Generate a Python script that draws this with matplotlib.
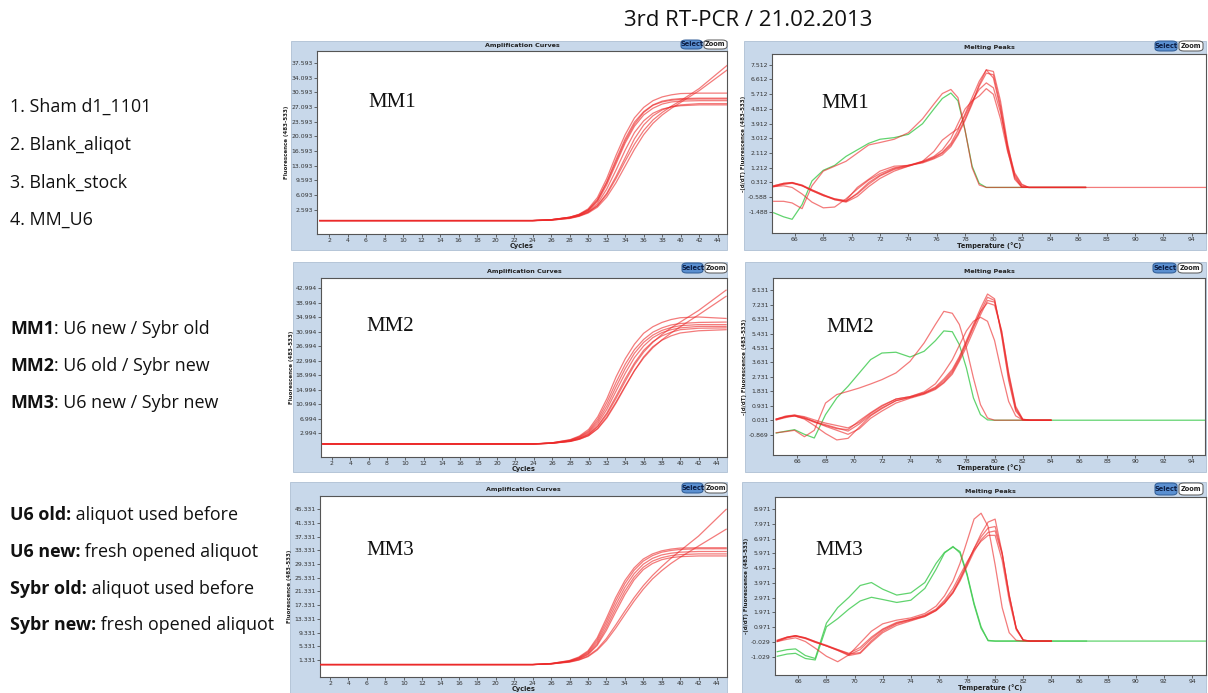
import numpy as np
import matplotlib
matplotlib.use("Agg")
import matplotlib.pyplot as plt
from matplotlib.patches import Rectangle, FancyBboxPatch

nan = float("nan")
W, H = 1208, 693

# ---------------- data ----------------
title = "3rd RT-PCR / 21.02.2013"
samples = ["1. Sham d1_1101", "2. Blank_aliqot", "3. Blank_stock", "4. MM_U6"]
mixes = [("MM1", ": U6 new / Sybr old"), ("MM2", ": U6 old / Sybr new"), ("MM3", ": U6 new / Sybr new")]
notes = [("U6 old:", " aliquot used before"), ("U6 new:", " fresh opened aliquot"),
         ("Sybr old:", " aliquot used before"), ("Sybr new:", " fresh opened aliquot")]

amp_cycles = [1, 24, 26, 28, 29, 30, 31, 32, 33, 34, 35, 36, 37, 38, 39, 40, 42, 45]
amp_xticks = [2, 4, 6, 8, 10, 12, 14, 16, 18, 20, 22, 24, 26, 28, 30, 32, 34, 36, 38, 40, 42, 44]

mm1_amp = [
    [0, 0, 0.2, 0.8, 1.5, 2.8, 5.5, 10, 15.5, 20.5, 24.5, 27, 28.6, 29.5, 30, 30.3, 30.4, 30.4],
    [0, 0, 0.2, 0.8, 1.4, 2.6, 5, 9.2, 14.5, 19.5, 23.5, 26, 27.6, 28.5, 28.9, 29.1, 29.2, 29.2],
    [0, 0, 0.2, 0.7, 1.3, 2.4, 4.5, 8.5, 13.5, 18.5, 22.5, 25.2, 26.8, 27.8, 28.3, 28.5, 28.6, 28.6],
    [0, 0, 0.2, 0.7, 1.2, 2.2, 4, 7.5, 12, 16.8, 21, 23.8, 25.6, 26.6, 27.1, 27.4, 27.6, 27.6],
    [0, 0, 0.1, 0.6, 1.1, 2, 3.6, 6.5, 10.5, 15, 19.5, 22.8, 25, 26.4, 27.2, 27.6, 27.9, 27.9],
    [0, 0, 0.1, 0.6, 1.1, 2, 3.5, 6.2, 10, 14.2, 18.2, 21.5, 24, 25.8, 27.3, 28.6, 31.5, 37],
    [0, 0, 0.1, 0.5, 1, 1.8, 3.2, 5.6, 9, 13, 17, 20.5, 23.2, 25.2, 26.8, 28.2, 31, 35.9],
    [0, 0, 0.2, 0.8, 1.4, 2.5, 4.8, 9, 14, 19, 23, 25.8, 27.5, 28.3, 28.7, 28.9, 29, 29],
]
mm2_amp = [
    [0, 0, 0.3, 1.2, 2.2, 4, 7.5, 12.5, 18.5, 23.5, 27.5, 30.5, 32.3, 33.5, 34.3, 34.8, 35, 34.6],
    [0, 0, 0.3, 1.1, 2, 3.6, 6.8, 11.5, 17, 22, 26, 28.8, 30.8, 32, 32.8, 33.2, 33.5, 33.6],
    [0, 0, 0.3, 1, 1.9, 3.3, 6.2, 10.5, 15.8, 20.8, 25, 28, 30, 31.3, 32.1, 32.6, 32.9, 32.9],
    [0, 0, 0.2, 0.9, 1.7, 3, 5.6, 9.6, 14.6, 19.5, 23.8, 27, 29.3, 30.7, 31.5, 32, 32.4, 32.4],
    [0, 0, 0.2, 0.8, 1.5, 2.7, 5, 8.6, 13.2, 18, 22.3, 25.8, 28.2, 29.8, 30.8, 31.5, 31.9, 32],
    [0, 0, 0.2, 0.7, 1.3, 2.3, 4.2, 7.2, 11.3, 15.8, 20.2, 24, 26.8, 28.6, 29.8, 30.6, 31.2, 31.5],
    [0, 0, 0.2, 0.8, 1.5, 2.6, 4.8, 8.2, 12.6, 17.3, 21.8, 25.3, 28, 30.2, 32, 33.6, 36.8, 42.4],
    [0, 0, 0.2, 0.7, 1.3, 2.3, 4.3, 7.5, 11.6, 16, 20.2, 23.7, 26.5, 28.7, 30.6, 32.3, 35.6, 40.7],
]
mm3_amp = [
    [0, 0, 0.3, 1.2, 2.2, 4, 7.8, 13.5, 19.5, 24.5, 28.2, 30.8, 32.3, 33.2, 33.7, 34, 34.1, 34.1],
    [0, 0, 0.3, 1.1, 2, 3.7, 7.2, 12.6, 18.5, 23.6, 27.5, 30.2, 31.8, 32.8, 33.3, 33.6, 33.8, 33.8],
    [0, 0, 0.3, 1, 1.9, 3.4, 6.6, 11.7, 17.4, 22.5, 26.5, 29.3, 31, 32, 32.5, 32.8, 33, 33],
    [0, 0, 0.2, 0.9, 1.7, 3.1, 6, 10.8, 16.3, 21.4, 25.5, 28.4, 30.2, 31.2, 31.8, 32.1, 32.3, 32.3],
    [0, 0, 0.2, 0.9, 1.6, 2.9, 5.6, 10, 15.3, 20.4, 24.7, 27.7, 29.5, 30.6, 31.2, 31.5, 31.7, 31.7],
    [0, 0, 0.2, 0.8, 1.4, 2.5, 4.5, 7.6, 11.5, 15.6, 19.5, 23, 26, 28.6, 31, 33.2, 37.5, 45.3],
    [0, 0, 0.2, 0.7, 1.3, 2.3, 4.2, 7, 10.6, 14.6, 18.5, 22, 25, 27.4, 29.5, 31.3, 34.6, 39.5],
]
mm1_amp_yticks = [2.593, 6.093, 9.593, 13.093, 16.593, 20.093, 23.593, 27.093, 30.593, 34.093, 37.593]
mm2_amp_yticks = [2.994, 6.994, 10.994, 14.994, 18.994, 22.994, 26.994, 30.994, 34.994, 38.994, 42.994]
mm3_amp_yticks = [1.331, 5.331, 9.331, 13.331, 17.331, 21.331, 25.331, 29.331, 33.331, 37.331, 41.331, 45.331]

melt_temps = [64.5, 65.2, 65.8, 66.5, 67.2, 68.0, 68.8, 69.6, 70.4, 71.2, 72.0, 73.0, 74.0, 75.0, 75.8,
              76.4, 77.0, 77.5, 78.0, 78.5, 79.0, 79.5, 80.0, 80.5, 81.0, 81.5, 82.0, 82.5, 84.0, 86.5, 95.0]
melt_xticks = [66, 68, 70, 72, 74, 76, 78, 80, 82, 84, 86, 88, 90, 92, 94]

mm1_melt_green = [
    [-1.55, -1.8, -1.95, -1.05, 0.4, 1.05, 1.35, 1.9, 2.3, 2.7, 2.95, 3.05, 3.25, 3.9, 4.8, 5.45, 5.78, 5.3, 3.5, 1.3, 0.25, 0.0, 0.0, 0.0, 0.0, 0.0, 0.0, 0.0, 0.0, 0.0, nan],
]
mm1_melt_red = [
    [-0.85, -0.85, -0.95, -1.3, 0.1, 1.0, 1.3, 1.6, 2.1, 2.6, 2.75, 2.95, 3.35, 4.2, 5.1, 5.75, 6.0, 5.5, 3.5, 1.2, 0.15, 0.0, 0.0, 0.0, 0.0, 0.0, 0.0, 0.0, 0.0, 0.0, nan],
    [0.1, 0.25, 0.3, 0.15, -0.15, -0.45, -0.7, -0.85, -0.35, 0.3, 0.75, 1.15, 1.35, 1.55, 1.85, 2.15, 2.7, 3.5, 4.5, 5.5, 6.5, 7.2, 6.7, 4.8, 2.3, 0.5, 0.02, 0.0, 0.0, 0.0, 0.0],
    [0.05, 0.2, 0.28, 0.12, -0.2, -0.5, -0.75, -0.9, -0.55, 0.05, 0.55, 1.0, 1.3, 1.55, 1.8, 2.1, 2.6, 3.3, 4.2, 5.2, 6.3, 7.2, 7.1, 5.3, 2.7, 0.7, 0.05, 0.0, 0.0, 0.0, nan],
    [0.05, 0.1, 0.0, -0.4, -0.9, -1.25, -1.2, -0.7, -0.1, 0.45, 0.85, 1.2, 1.35, 1.5, 1.75, 2.0, 2.5, 3.2, 4.1, 5.1, 6.2, 7.0, 6.9, 5.0, 2.5, 0.6, 0.03, 0.0, 0.0, 0.0, nan],
    [0.1, 0.25, 0.3, 0.1, -0.2, -0.5, -0.7, -0.8, 0.0, 0.5, 1.0, 1.3, 1.35, 1.6, 2.2, 2.9, 3.3, 3.6, 4.4, 5.3, 6.0, 6.4, 6.1, 4.6, 2.5, 0.9, 0.2, 0.0, 0.0, 0.0, nan],
    [0.05, 0.2, 0.25, 0.1, -0.15, -0.45, -0.75, -0.85, -0.4, 0.2, 0.7, 1.1, 1.3, 1.6, 1.9, 2.3, 3.0, 3.9, 4.8, 5.3, 5.6, 6.05, 5.7, 4.2, 2.2, 0.8, 0.15, 0.0, 0.0, 0.0, nan],
]
mm2_melt_green = [
    [-0.77, -0.65, -0.56, -0.85, -1.08, 0.38, 1.42, 2.15, 2.98, 3.81, 4.22, 4.27, 3.97, 4.33, 4.99, 5.6, 5.55, 4.74, 3.29, 1.42, 0.38, 0.05, 0.03, 0.03, 0.03, 0.03, 0.03, 0.03, 0.03, 0.03, 0.03],
]
mm2_melt_red = [
    [-0.75, -0.68, -0.6, -1.0, -0.6, 1.1, 1.63, 1.83, 2.04, 2.29, 2.56, 2.98, 3.7, 4.85, 6.0, 6.82, 6.7, 6.0, 4.54, 2.66, 1.0, 0.17, 0.03, 0.03, 0.03, 0.03, 0.03, 0.03, 0.03, nan, nan],
    [0.1, 0.25, 0.35, 0.25, 0.05, -0.15, -0.3, -0.45, -0.1, 0.45, 0.9, 1.35, 1.5, 1.75, 2.1, 2.6, 3.2, 4.0, 5.0, 6.0, 7.0, 7.9, 7.6, 5.3, 2.5, 0.6, 0.05, 0.03, 0.03, nan, nan],
    [0.05, 0.2, 0.3, 0.1, -0.3, -0.8, -1.2, -1.1, -0.4, 0.3, 0.75, 1.25, 1.45, 1.7, 2.0, 2.4, 3.0, 3.8, 4.8, 5.8, 6.8, 7.7, 7.5, 5.4, 2.7, 0.7, 0.06, 0.03, 0.03, nan, nan],
    [0.1, 0.3, 0.35, 0.2, -0.05, -0.35, -0.6, -0.85, -0.5, 0.15, 0.6, 1.1, 1.4, 1.65, 1.95, 2.35, 2.9, 3.7, 4.6, 5.6, 6.6, 7.5, 7.4, 5.6, 2.9, 0.8, 0.08, 0.03, 0.03, nan, nan],
    [0.05, 0.25, 0.3, 0.15, -0.05, -0.25, -0.45, -0.65, -0.2, 0.35, 0.8, 1.25, 1.45, 1.7, 2.05, 2.5, 3.1, 3.9, 4.9, 5.9, 6.8, 7.35, 7.2, 5.6, 3.0, 0.9, 0.1, 0.03, 0.03, nan, nan],
    [0.1, 0.25, 0.3, 0.15, -0.1, -0.3, -0.5, -0.55, 0.0, 0.5, 0.95, 1.35, 1.5, 1.8, 2.3, 3.0, 3.8, 4.7, 5.6, 6.2, 6.45, 6.2, 5.0, 3.0, 1.2, 0.3, 0.05, 0.03, 0.03, nan, nan],
]
mm3_melt_green = [
    [-0.69, -0.55, -0.5, -0.95, -1.15, 1.25, 2.3, 3.0, 3.8, 4.0, 3.55, 3.15, 3.3, 4.0, 5.3, 6.05, 6.4, 6.1, 4.6, 2.6, 1.0, 0.05, 0.03, 0.03, 0.03, 0.03, 0.03, 0.03, 0.03, 0.03, 0.03],
    [-1.0, -0.85, -0.8, -1.15, -1.25, 1.0, 1.55, 2.2, 2.75, 3.0, 2.85, 2.65, 2.8, 3.6, 4.9, 6.0, 6.45, 6.0, 4.5, 2.5, 0.9, 0.08, 0.03, 0.03, 0.03, 0.03, 0.03, 0.03, 0.03, 0.03, nan],
]
mm3_melt_red = [
    [0.0, 0.15, 0.25, 0.0, -0.45, -1.0, -1.37, -0.9, -0.1, 0.7, 1.2, 1.45, 1.6, 1.9, 2.4, 3.1, 4.1, 5.3, 6.8, 8.3, 8.7, 7.8, 5.2, 2.3, 0.6, 0.08, 0.03, 0.03, 0.03, nan, nan],
    [0.05, 0.3, 0.4, 0.25, 0.0, -0.25, -0.55, -0.85, -0.75, 0.05, 0.7, 1.2, 1.45, 1.7, 2.1, 2.6, 3.3, 4.2, 5.2, 6.3, 7.3, 8.1, 8.3, 6.0, 3.2, 0.9, 0.1, 0.03, 0.03, nan, nan],
    [0.0, 0.25, 0.38, 0.22, -0.05, -0.3, -0.6, -0.9, -0.55, 0.2, 0.8, 1.25, 1.5, 1.75, 2.15, 2.7, 3.4, 4.3, 5.3, 6.3, 7.1, 7.7, 7.8, 6.0, 3.1, 0.9, 0.1, 0.03, 0.03, nan, nan],
    [0.1, 0.3, 0.4, 0.25, 0.0, -0.3, -0.6, -0.95, -0.8, -0.05, 0.6, 1.1, 1.4, 1.7, 2.1, 2.6, 3.3, 4.1, 5.1, 6.1, 6.9, 7.4, 7.5, 5.9, 3.1, 0.9, 0.1, 0.03, 0.03, nan, nan],
    [0.05, 0.28, 0.36, 0.2, -0.05, -0.3, -0.55, -0.8, -0.4, 0.3, 0.85, 1.3, 1.5, 1.8, 2.2, 2.8, 3.6, 4.5, 5.4, 6.2, 6.8, 7.2, 7.2, 5.5, 2.8, 0.8, 0.08, 0.03, 0.03, nan, nan],
]
mm1_melt_yticks = [-1.488, -0.588, 0.312, 1.212, 2.112, 3.012, 3.912, 4.812, 5.712, 6.612, 7.512]
mm2_melt_yticks = [-0.869, 0.031, 0.931, 1.831, 2.731, 3.631, 4.531, 5.431, 6.331, 7.231, 8.131]
mm3_melt_yticks = [-1.029, -0.029, 0.971, 1.971, 2.971, 3.971, 4.971, 5.971, 6.971, 7.971, 8.971]

# ---------------- styling ----------------
PANEL_BG = "#c8d8ea"
RED = "#ec2a2a"
GREEN = "#45cc55"
TXT_FONT = ["Open Sans", "DejaVu Sans"]
TXT_SIZE = 12.9

fig = plt.figure(figsize=(W / 100, H / 100), dpi=100)
fig.patch.set_facecolor("white")


def fbox(x0, y0, x1, y1):
    return [x0 / W, 1 - y1 / H, (x1 - x0) / W, (y1 - y0) / H]


def button(x0, y0, x1, y1, text, fc, ec, tc):
    b = FancyBboxPatch((x0 / W, 1 - y1 / H), (x1 - x0) / W, (y1 - y0) / H,
                       boxstyle="round,pad=0,rounding_size=0.004", transform=fig.transFigure,
                       facecolor=fc, edgecolor=ec, linewidth=0.7, zorder=3)
    fig.add_artist(b)
    fig.text((x0 + x1) / 2 / W, 1 - (y0 + y1) / 2 / H, text, ha="center", va="center",
             fontsize=4.8, fontweight="bold", color=tc, zorder=4)


def panel(outer, inner, ptitle, kind, xs, red_curves, green_curves, yticks, xlim, ylim, label, sel):
    x0, y0, x1, y1 = outer
    fig.add_artist(Rectangle((x0 / W, 1 - y1 / H), (x1 - x0) / W, (y1 - y0) / H,
                             transform=fig.transFigure, facecolor=PANEL_BG, edgecolor="#aebfd3",
                             linewidth=0.6, zorder=0))
    ax = fig.add_axes(fbox(*inner))
    ax.set_facecolor("white")
    for g in green_curves:
        ax.plot(xs, g, color=GREEN, lw=0.9, alpha=0.85, zorder=2)
    for r in red_curves:
        ax.plot(xs, r, color=RED, lw=0.9, alpha=0.62, zorder=3)
    ax.set_xlim(*xlim)
    ax.set_ylim(*ylim)
    if kind == "amp":
        ax.set_xticks(amp_xticks)
        ax.set_xticklabels([str(t) for t in amp_xticks])
        xl, yl = "Cycles", "Fluorescence (483-533)"
    else:
        ax.set_xticks(melt_xticks)
        ax.set_xticklabels([str(t) for t in melt_xticks])
        xl, yl = "Temperature (\u00b0C)", "-(d/dT) Fluorescence (483-533)"
    ax.set_yticks(yticks)
    ax.set_yticklabels([f"{t:.3f}" for t in yticks])
    ax.tick_params(labelsize=4.4, length=2, width=0.5, pad=1, colors="#333333")
    for s in ax.spines.values():
        s.set_color("#555555")
        s.set_linewidth(0.8)
    ax.set_xlabel(xl, fontsize=4.8, fontweight="bold", labelpad=0, color="#222222")
    ax.set_ylabel(yl, fontsize=4.0, fontweight="bold", labelpad=1.5, color="#222222")
    ax.text(label[0], label[1], label[2], transform=ax.transAxes, ha="center", va="center",
            fontsize=15, family=["Liberation Serif", "DejaVu Serif"], color="#111111")
    fig.text((x0 + x1) / 2 / W + (inner[0] - x0) / 2 / W, 1 - (inner[1] - 6) / H, ptitle,
             ha="center", va="center", fontsize=4.6, fontweight="bold", color="#222222")
    sx0, sy0, sx1, sy1, zx1 = sel
    button(sx0, sy0, sx1, sy1, "Select", "#5a8fd0", "#2d5a94", "#0d1f45")
    button(sx1 + 2, sy0, zx1, sy1, "Zoom", "white", "#555555", "#222222")
    return ax


# amplification panels
panel((291, 41, 727, 250), (317, 51, 727, 234), "Amplification Curves", "amp", amp_cycles,
      mm1_amp, [], mm1_amp_yticks, (0.7, 45.0), (-3.2, 40.45), (0.183, 0.72, "MM1"),
      (681, 40, 702, 49, 727))
panel((293, 262, 727, 472), (321, 278, 727, 457), "Amplification Curves", "amp", amp_cycles,
      mm2_amp, [], mm2_amp_yticks, (0.8, 45.1), (-3.6, 45.75), (0.17, 0.73, "MM2"),
      (682, 263, 703, 273, 727))
panel((290, 482, 727, 693), (320, 496, 727, 677), "Amplification Curves", "amp", amp_cycles,
      mm3_amp, [], mm3_amp_yticks, (0.91, 45.09), (-3.63, 49.2), (0.172, 0.70, "MM3"),
      (682, 483, 703, 493, 727))
# melting panels
panel((744, 41, 1206, 250), (772, 54, 1206, 233), "Melting Peaks", "melt", melt_temps,
      mm1_melt_red, mm1_melt_green, mm1_melt_yticks, (64.38, 95.0), (-2.79, 8.17), (0.168, 0.725, "MM1"),
      (1155, 41, 1177, 51, 1203))
panel((745, 262, 1206, 472), (773, 278, 1205, 455), "Melting Peaks", "melt", melt_temps,
      mm2_melt_red, mm2_melt_green, mm2_melt_yticks, (64.27, 94.94), (-2.14, 8.90), (0.178, 0.72, "MM2"),
      (1153, 263, 1176, 273, 1202))
panel((742, 482, 1206, 693), (775, 497, 1206, 675), "Melting Peaks", "melt", melt_temps,
      mm3_melt_red, mm3_melt_green, mm3_melt_yticks, (64.34, 95.0), (-2.27, 9.8), (0.149, 0.70, "MM3"),
      (1155, 483, 1177, 495, 1203))

# ---------------- texts ----------------
fig.text(748 / W, 1 - 20 / H, title, ha="center", va="center", fontsize=16, family=TXT_FONT, color="#111111")

for i, s in enumerate(samples):
    fig.text(10 / W, 1 - (107 + 37.7 * i) / H, s, ha="left", va="center", fontsize=TXT_SIZE, family=TXT_FONT,
             color="#111111")

renderer = fig.canvas.get_renderer()


def mixed(y, bold, rest):
    t = fig.text(10 / W, 1 - y / H, bold, ha="left", va="center", fontsize=TXT_SIZE, fontweight="bold",
                 family=TXT_FONT, color="#111111")
    bb = t.get_window_extent(renderer=renderer)
    fig.text(bb.x1 / W, 1 - y / H, rest, ha="left", va="center", fontsize=TXT_SIZE, family=TXT_FONT,
             color="#111111")


for i, (b, r) in enumerate(mixes):
    mixed(329 + 37 * i, b, r)
for i, (b, r) in enumerate(notes):
    mixed(515 + 36.8 * i, b, r)

fig.savefig("out.png", dpi=100, facecolor="white")
